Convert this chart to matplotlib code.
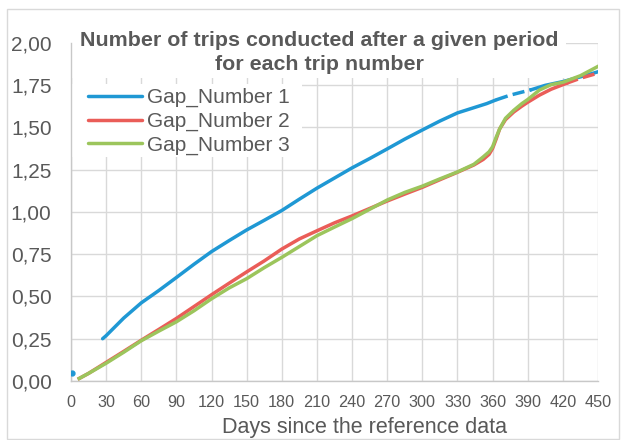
import matplotlib
matplotlib.use('Agg')
import matplotlib.pyplot as plt
from matplotlib.patches import Rectangle

plt.rcParams['font.family'] = ['Liberation Sans', 'DejaVu Sans']

# ---------------- data ----------------
series_names = ['Gap_Number 1', 'Gap_Number 2', 'Gap_Number 3']

blue_dot_day = [1]
blue_dot_val = [0.045]

blue_days = [27, 30, 45, 60, 75, 90, 105, 120, 135, 150, 165, 180, 195, 210, 225,
             240, 255, 270, 285, 300, 315, 330, 345, 355, 363, 375, 393, 405, 420, 435, 450]
blue_vals = [0.250, 0.268, 0.372, 0.462, 0.535, 0.612, 0.690, 0.765, 0.830, 0.893, 0.950,
             1.008, 1.075, 1.140, 1.200, 1.260, 1.315, 1.372, 1.430, 1.484, 1.537, 1.585,
             1.618, 1.640, 1.662, 1.690, 1.722, 1.748, 1.770, 1.798, 1.828]

red_days = [7, 15, 30, 45, 60, 75, 90, 105, 120, 135, 150, 165, 180, 195, 210, 225, 240,
            255, 270, 285, 300, 315, 330, 344, 352, 357, 360, 363, 366, 371, 378, 385, 390,
            400, 410, 423, 435, 450]
red_vals = [0.015, 0.045, 0.110, 0.175, 0.241, 0.305, 0.370, 0.440, 0.510, 0.578, 0.645,
            0.710, 0.780, 0.840, 0.888, 0.935, 0.976, 1.020, 1.064, 1.105, 1.145, 1.190,
            1.234, 1.277, 1.310, 1.340, 1.375, 1.430, 1.490, 1.545, 1.590, 1.625, 1.648,
            1.690, 1.725, 1.760, 1.790, 1.820]

green_days = [7, 15, 30, 45, 60, 75, 90, 105, 120, 135, 150, 165, 180, 195, 210, 225, 240,
              255, 270, 285, 300, 315, 330, 344, 352, 357, 360, 363, 366, 371, 378, 385, 390,
              400, 410, 420, 435, 450]
green_vals = [0.015, 0.045, 0.105, 0.170, 0.238, 0.295, 0.350, 0.415, 0.486, 0.550, 0.605,
              0.670, 0.731, 0.795, 0.859, 0.910, 0.960, 1.015, 1.070, 1.115, 1.152, 1.195,
              1.236, 1.281, 1.325, 1.355, 1.385, 1.440, 1.490, 1.553, 1.600, 1.640, 1.664,
              1.720, 1.752, 1.766, 1.805, 1.860]

x_ticks = [0, 30, 60, 90, 120, 150, 180, 210, 240, 270, 300, 330, 360, 390, 420, 450]
y_ticks = [0.0, 0.25, 0.5, 0.75, 1.0, 1.25, 1.5, 1.75, 2.0]
y_ticklabels = ['0,00', '0,25', '0,50', '0,75', '1,00', '1,25', '1,50', '1,75', '2,00']

title_lines = ['Number of trips conducted after a given period', 'for each trip number']
x_label = 'Days since the reference data'

# ---------------- style ----------------
BLUE = '#1f98d4'
RED = '#ea5d58'
GREEN = '#9cc55c'
TXT = '#595959'
GRID = '#d9d9d9'
LW = 2.5

W, H = 622, 440
fig = plt.figure(figsize=(W / 100, H / 100), dpi=100)


def fx(px):
    return px / W


def fy(py):
    return 1 - py / H


ax = fig.add_axes([fx(71), fy(381), fx(598) - fx(71), fy(42.7) - fy(381)])
ax.set_xlim(0, 450)
ax.set_ylim(0, 2.0)
ax.set_axisbelow(True)
ax.grid(True, color=GRID, linewidth=1.0)
ax.set_xticks(x_ticks)
ax.set_xticklabels([str(v) for v in x_ticks])
ax.set_yticks(y_ticks)
ax.set_yticklabels(y_ticklabels)
ax.tick_params(axis='both', length=0, labelcolor=TXT)
ax.tick_params(axis='y', labelsize=15, pad=14)
ax.tick_params(axis='x', labelsize=11.7, pad=10)
for s in ['top', 'right']:
    ax.spines[s].set_visible(False)
for s in ['left', 'bottom']:
    ax.spines[s].set_color('#c8c8c8')
    ax.spines[s].set_linewidth(1.0)

# blue: solid, dashed between 363 and 393, solid after
i1 = blue_days.index(363)
i2 = blue_days.index(393)
ax.plot(blue_dot_day, blue_dot_val, 'o', color=BLUE, markersize=3.5, zorder=3)
lb, = ax.plot(blue_days[:i1 + 1], blue_vals[:i1 + 1], color=BLUE, lw=LW, zorder=3,
              solid_capstyle='round')
ax.plot(blue_days[i1:i2 + 1], blue_vals[i1:i2 + 1], color=BLUE, lw=LW, zorder=3,
        dashes=(3.5, 1.5))
ax.plot(blue_days[i2:], blue_vals[i2:], color=BLUE, lw=LW, zorder=3)

# red: solid, dashed after 423
j1 = red_days.index(423)
lr, = ax.plot(red_days[:j1 + 1], red_vals[:j1 + 1], color=RED, lw=LW, zorder=4)
ax.plot(red_days[j1:], red_vals[j1:], color=RED, lw=LW, zorder=4, dashes=(3.5, 1.5))

# green
lg, = ax.plot(green_days, green_vals, color=GREEN, lw=LW, zorder=5)

# white boxes behind title and legend (hide gridlines)
ax.add_patch(Rectangle((fx(72), fy(78)), fx(566) - fx(72), fy(20) - fy(78),
                       transform=fig.transFigure, facecolor='white', edgecolor='none',
                       zorder=1, clip_on=False))
ax.add_patch(Rectangle((fx(72), fy(157)), fx(302) - fx(72), fy(84) - fy(157),
                       transform=fig.transFigure, facecolor='white', edgecolor='none',
                       zorder=1, clip_on=False))

leg = ax.legend([lb, lr, lg], series_names, loc='upper left',
                bbox_to_anchor=(fx(88), fy(88)), bbox_transform=fig.transFigure,
                frameon=False, fontsize=15, handlelength=2.6, handletextpad=0.25,
                labelspacing=0.22, borderpad=0, borderaxespad=0)
for t in leg.get_texts():
    t.set_color(TXT)
for h in leg.get_lines():
    h.set_linewidth(LW)
    h.set_solid_capstyle('round')

# title
fig.text(fx(319.5), fy(46), title_lines[0], ha='center', va='baseline', fontsize=15.4,
         fontweight='bold', color=TXT)
fig.text(fx(319.5), fy(70), title_lines[1], ha='center', va='baseline', fontsize=15.4,
         fontweight='bold', color=TXT)

# x label
fig.text(fx(364), fy(433), x_label, ha='center', va='baseline', fontsize=15.5, color=TXT)

# chart border
fig.patches.append(Rectangle((fx(7), fy(439)), fx(619) - fx(7), fy(9) - fy(439),
                             transform=fig.transFigure, facecolor='none',
                             edgecolor=GRID, linewidth=1.0))

fig.savefig('out.png', dpi=100)
